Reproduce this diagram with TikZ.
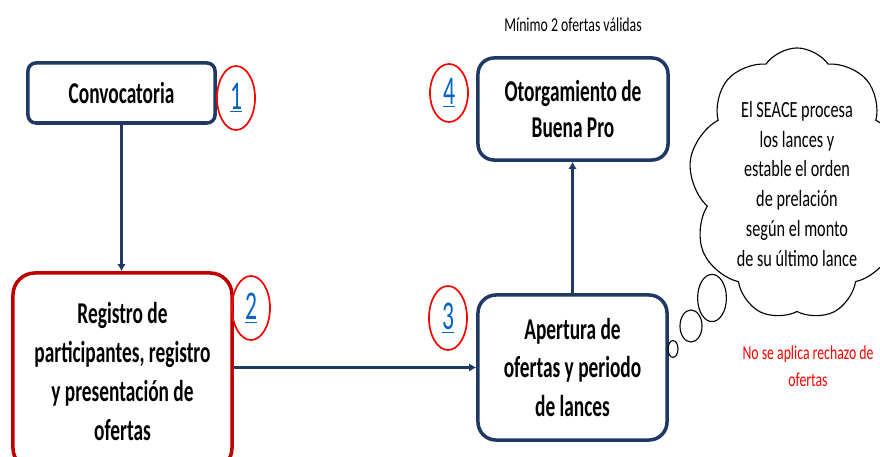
\documentclass[tikz,border=0pt]{standalone}
\usepackage{fontspec}
\setmainfont{Carlito}
\newfontfamily\boxfont[FakeStretch=0.64]{Carlito}
\newfontfamily\notefont[FakeStretch=0.7]{Carlito}
\newfontfamily\numfont[FakeStretch=0.58]{Carlito}
\usetikzlibrary{arrows.meta, positioning, shapes.geometric, shapes.symbols}
\definecolor{navy}{RGB}{31,56,100}
\definecolor{darkred}{RGB}{192,0,0}
\definecolor{linkblue}{RGB}{5,99,193}

\begin{document}
\begin{tikzpicture}[x=0.025cm, y=-0.025cm,
    stepbox/.style={draw=navy, line width=2.5pt, rectangle, rounded corners=#1, align=center, inner sep=0pt,
        font=\boxfont\bfseries\fontsize{21.5}{27.6}\selectfont},
    stepbox/.default=0.4cm,
    numcirc/.style={draw=red, line width=1.2pt, ellipse, inner sep=0pt, minimum width=0.95cm,
        minimum height=1.6cm, text=linkblue, font=\numfont\fontsize{29}{30}\selectfont},
    link/.style={draw=navy, line width=1.8pt, -{Latex[length=5pt,width=6pt]}},
    note/.style={align=center, font=\notefont\fontsize{14}{19}\selectfont}]
        \useasboundingbox (0,0) rectangle (880,457);
        \clip (0,0) rectangle (880,457);
        % Steps of the process
        \node[stepbox=0.2cm, minimum width=4.675cm, minimum height=1.5cm] (conv) at (121.5,93) {Convocatoria};
        \node[stepbox=0.55cm, draw=darkred, minimum width=5.475cm, minimum height=4.925cm] (reg) at (122.5,371.5) {Registro de\\participantes, registro\\y presentación de\\ofertas};
        \node[stepbox=0.45cm, minimum width=4.725cm, minimum height=3.625cm] (aper) at (572.5,367.5) {Apertura de\\ofertas y periodo\\de lances};
        \node[stepbox, minimum width=4.75cm, minimum height=2.55cm, font=\boxfont\bfseries\fontsize{21.5}{25}\selectfont] (otorg) at (573,109) {Otorgamiento de\\Buena Pro};

        \node[numcirc] (n1) at (236,98) {\underline{1}};
        \node[numcirc] (n2) at (251,308) {\underline{2}};
        \node[numcirc] (n3) at (448,318) {\underline{3}};
        \node[numcirc, minimum height=1.45cm] (n4) at (449,93) {\underline{4}};

        \node[note] (minimo) at (573,25) {Mínimo 2 ofertas válidas};
        \node[note, text=red] (rechazo) at (808,366) {No se aplica rechazo de\\ofertas};

        % Thought cloud
        \node[draw, cloud, cloud puffs=9, cloud puff arc=110, cloud ignores aspect, line width=0.8pt, minimum width=4.3cm,
            minimum height=6.8cm, align=center, font=\notefont\fontsize{16.5}{21.3}\selectfont] (seace) at (797,184)
            {El SEACE procesa\\los lances y\\estable el orden\\de prelación\\según el monto\\de su último lance};
        \draw[line width=0.8pt] (712,298) ellipse [x radius=0.36cm, y radius=0.59cm];
        \draw[line width=0.8pt] (691,326) ellipse [x radius=0.275cm, y radius=0.4cm];
        \draw[line width=0.8pt] (673,349) ellipse [x radius=0.125cm, y radius=0.21cm];

        \draw[link] (conv.south) -- (conv.south |- reg.north);
        \draw[link] (reg.east |- aper.west) -- (aper.west);
        \draw[link] (aper.north) -- (aper.north |- otorg.south);
    \end{tikzpicture}
\end{document}
